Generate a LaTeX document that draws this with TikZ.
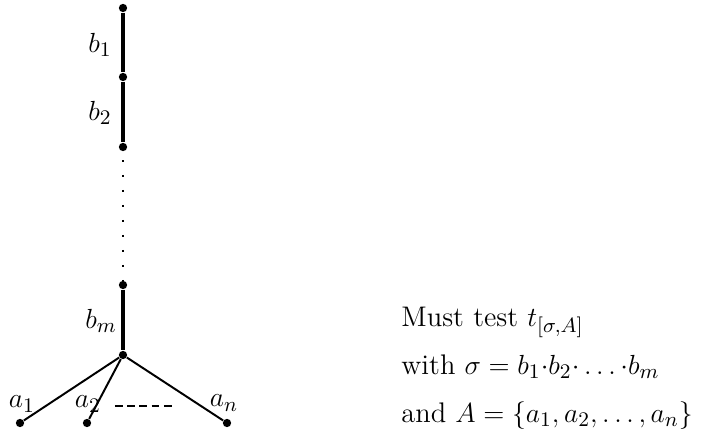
\documentclass[tikz,border=0pt]{standalone}
\usepackage{amsmath}
\usepackage{amssymb}
\usetikzlibrary{positioning, calc}

\begin{document}
\fontsize{12.3pt}{15pt}\selectfont
\begin{tikzpicture}[x=0.434pt, y=-0.434pt]
  \tikzset{
    pto/.style={circle, fill=black, inner sep=0pt, minimum size=3.6pt},
    ramo/.style={line width=1.7pt},
    folha/.style={line width=0.85pt},
    rot/.style={inner sep=1pt}}
  \useasboundingbox (0,0) rectangle (711,435);
  % caule
  \node[pto] (v0) at (123,8) {};
  \node[pto] (v1) at (123,77) {};
  \node[pto] (v2) at (123,147) {};
  \node[pto] (v3) at (123,285) {};
  \node[pto] (r) at (123,355) {};
  \draw[ramo] (v0) -- (v1);
  \draw[ramo] (v1) -- (v2);
  \draw[ramo] (v3) -- (r);
  \draw[line width=0.9pt, dash pattern=on 0.9pt off 5.6pt] ($(v2)+(0,13)$) -- (v3);
  \node[rot] (lb1) at (100,45) {$b_1$};
  \node[rot] (lb2) at (100,113) {$b_2$};
  \node[rot] (lbm) at (101,321) {$b_m$};
  % folhas
  \foreach \n/\x in {1/20,2/87,n/227} {
    \node[pto] (a\n) at (\x,423) {};
    \draw[folha] (r) -- (a\n);}
  \node[rot] (la1) at (22,404) {$a_1$};
  \node[rot] (la2) at (88,404) {$a_2$};
  \node[rot] (lan) at (224,403) {$a_n$};
  \coordinate (d1) at (115,406);
  \coordinate (d2) at (176,406);
  \draw[line width=1.2pt, dash pattern=on 3.4pt off 1.9pt] (d1) -- (d2);
  % texto
  \node[anchor=base west, inner sep=0pt] (msg1) at (401,326) {Must test $t_{[\sigma,A]}$};
  \node[anchor=base west, inner sep=0pt] (msg2) at (401,374) {with $\sigma=b_1{\cdot}b_2{\cdot}\ldots{\cdot}b_m$};
  \node[anchor=base west, inner sep=0pt] (msg3) at (401,422) {and $A=\{a_1,a_2,\ldots,a_n\}$};
\end{tikzpicture}
\end{document}
